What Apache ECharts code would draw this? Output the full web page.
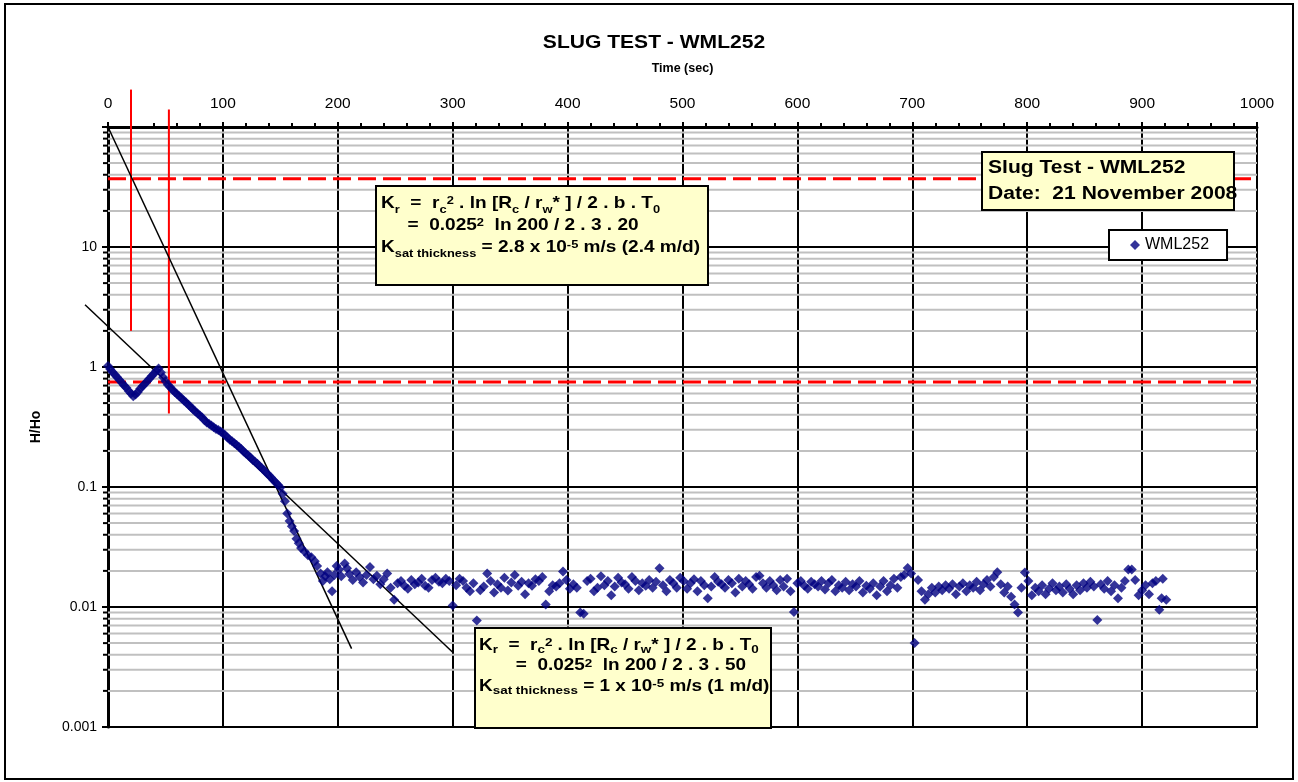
<!DOCTYPE html>
<html>
<head>
<meta charset="utf-8">
<script src="https://cdn.jsdelivr.net/npm/echarts@6/dist/echarts.min.js"></script>
<style>
  html, body { margin: 0; padding: 0; background: #fff; }
  #chart { width: 1298px; height: 782px; }
</style>
</head>
<body>
<div id="chart"></div>
<script>
const FONT = '"Liberation Sans", Arial, Helvetica, sans-serif';

// ---- Axis ticks ----
const timeRange = [0, 1000];
const timeStep = 100;
const headRange = [0.001, 100];
const headTickLabels = { '-3': '0.001', '-2': '0.01', '-1': '0.1', '0': '1', '1': '10', '2': '' };
const headMinorLevels = [
  0.002, 0.003, 0.004, 0.005, 0.006, 0.007, 0.008, 0.009,
  0.02, 0.03, 0.04, 0.05, 0.06, 0.07, 0.08, 0.09,
  0.2, 0.3, 0.4, 0.5, 0.6, 0.7, 0.8, 0.9,
  2, 3, 4, 5, 6, 7, 8, 9,
  20, 30, 40, 50, 60, 70, 80, 90
];

// ---- Observations: [time (s), H/Ho] ----
const initialResponse = [
  [0,1.02],[2,0.96],[4,0.91],[6,0.86],[8,0.82],[10,0.78],[12,0.74],[14,0.70],[16,0.67],[18,0.63],
  [20,0.60],[22,0.57],[24,0.59],[26,0.62],[28,0.66],[30,0.69],[32,0.72],[34,0.76],[36,0.80],[38,0.84],
  [40,0.88],[42,0.93],[44,0.97],[46,0.90],[48,0.82],[50,0.76],[52,0.71]
];
const recovery = [
  [54,0.68],[56,0.65],[58,0.62],[60,0.595],[62,0.57],[64,0.55],[66,0.525],[68,0.505],[70,0.485],[72,0.465],
  [74,0.445],[76,0.425],[78,0.41],[80,0.395],[82,0.38],[84,0.36],[86,0.345],[88,0.335],[90,0.325],[92,0.315],
  [94,0.305],[96,0.298],[98,0.29],[100,0.28],[102,0.27],[104,0.258],[106,0.248],[108,0.24],[110,0.232],[112,0.224],
  [114,0.215],[116,0.207],[118,0.198],[120,0.19],[122,0.183],[124,0.176],[126,0.168],[128,0.162],[130,0.156],[132,0.149],
  [134,0.143],[136,0.137],[138,0.131],[140,0.125],[142,0.12],[144,0.114],[146,0.109],[148,0.104],[150,0.099]
];
const lateDecline = [
  [152,0.088],[154,0.076],[156,0.06],[158,0.052],[160,0.047],[162,0.043],[164,0.037],[166,0.034],[168,0.031],[171,0.029],
  [174,0.027],[177,0.026],[180,0.024],[182,0.022],[185,0.019],[187,0.0165],[189,0.018],[191,0.0195],[193,0.017],[195,0.0135],
  [197,0.0185],[199,0.022],[201,0.0205],[203,0.018],[206,0.023],[208,0.021],[210,0.0188],[213,0.0168],[216,0.0195],[219,0.0178],
  [222,0.016],[225,0.0185],[228,0.0215],[231,0.017],[234,0.0182]
];
const backgroundLevel = [
  [237,0.0155],[240,0.017],[243,0.019],[246,0.0145],[249,0.0115],[252,0.0158],[255,0.0165],[258,0.015],[261,0.0142],[264,0.0168],
  [267,0.0155],[270,0.016],[273,0.0172],[276,0.015],[279,0.0145],[282,0.0168],[285,0.0175],[288,0.0162],[291,0.0158],[294,0.0172],
  [297,0.0165],[300,0.0103],[303,0.0152],[306,0.0172],[309,0.0165],[312,0.0145],[315,0.0135],[318,0.0158],[321,0.0077],[324,0.0138],
  [327,0.0148],[330,0.019],[333,0.0165],[336,0.0132],[339,0.0155],[342,0.0145],[345,0.0175],[348,0.0137],[351,0.016],[354,0.0185],
  [357,0.015],[360,0.0162],[363,0.0128],[366,0.0158],[369,0.015],[372,0.017],[375,0.0165],[378,0.0178],[381,0.0105],[384,0.0135],
  [387,0.0152],[390,0.0148],[393,0.0158],[396,0.0198],[399,0.0168],[402,0.0142],[405,0.0155],[408,0.0145],[411,0.009],[414,0.0088],
  [417,0.0165],[420,0.0172],[423,0.0135],[426,0.0145],[429,0.018],[432,0.0152],[435,0.0165],[438,0.0125],[441,0.0148],[444,0.0175],
  [447,0.016],[450,0.0155],[453,0.0142],[456,0.0178],[459,0.0165],[462,0.0138],[465,0.0158],[468,0.015],[471,0.0168],[474,0.0145],
  [477,0.0162],[480,0.021],[483,0.0152],[486,0.0135],[489,0.0168],[492,0.0158],[495,0.0145],[498,0.0175],[501,0.0165],[504,0.0142],
  [507,0.0158],[510,0.017],[513,0.0135],[516,0.0165],[519,0.0152],[522,0.0118],[525,0.0148],[528,0.0178],[531,0.0162],[534,0.0155],
  [537,0.0145],[540,0.0168],[543,0.0158],[546,0.0132],[549,0.0172],[552,0.0148],[555,0.0165],[558,0.0155],[561,0.0142],[564,0.0178],
  [567,0.0182],[570,0.0158],[573,0.0145],[576,0.0165],[579,0.0152],[582,0.0138],[585,0.0168],[588,0.0148],[591,0.0172],[594,0.0135],
  [597,0.0091],[600,0.0158],[603,0.0165],[606,0.015],[609,0.0142],[612,0.0162],[615,0.0155],[618,0.0148],[621,0.0165],[624,0.014],
  [627,0.0158],[630,0.0168],[633,0.0135],[636,0.0152],[639,0.0145],[642,0.0162],[645,0.0138],[648,0.0155],[651,0.0148],[654,0.0165],
  [657,0.0132],[660,0.015],[663,0.0142],[666,0.0158],[669,0.0125],[672,0.0148],[675,0.0165],[678,0.0135],[681,0.0152],[684,0.0172],
  [687,0.0145],[690,0.0178],[693,0.0185],[696,0.0211],[699,0.019],[702,0.005],[705,0.0168],[708,0.0135],[711,0.0115],[714,0.0128],
  [717,0.0145],[720,0.0132],[723,0.0148],[726,0.0138],[729,0.0152],[732,0.0142],[735,0.0155],[738,0.0128],[741,0.0148],[744,0.0158],
  [747,0.0135],[750,0.0152],[753,0.0145],[756,0.0162],[759,0.0138],[762,0.0155],[765,0.0168],[768,0.0148],[771,0.0178],[774,0.0195],
  [777,0.0155],[780,0.0132],[783,0.0148],[786,0.0122],[789,0.0105],[792,0.009],[795,0.0145],[798,0.0194],[801,0.0165],[804,0.0125],
  [807,0.0145],[810,0.0135],[813,0.0152],[816,0.0128],[819,0.0142],[822,0.0158],[825,0.0138],[828,0.0148],[831,0.0132],[834,0.0155],
  [837,0.0142],[840,0.0128],[843,0.0152],[846,0.0138],[849,0.0158],[852,0.0145],[855,0.0162],[858,0.0148],[861,0.0078],[864,0.0155],
  [867,0.0142],[870,0.0165],[873,0.0135],[876,0.0152],[879,0.0118],[882,0.0145],[885,0.0165],[888,0.0205],[891,0.0205],[894,0.0168],
  [897,0.0125],[900,0.0138],[903,0.0152],[906,0.0128],[909,0.0158],[912,0.0165],[915,0.0095],[917,0.0118],[918,0.0172],[921,0.0115]
];

// ---- Straight-line fits and analysis markers: [[t1, h1], [t2, h2]] ----
const earlyFit = [[0, 100], [212, 0.0045]];
const lateFit = [[-20, 3.3], [300, 0.0042]];
const t0Marker1 = [[20, 2], [20, 205]];
const t0Marker2 = [[53, 0.41], [53, 140]];
const upperLevel = [[0, 37], [1000, 37]];
const lowerLevel = [[0, 0.75], [1000, 0.75]];

const observations = [].concat(initialResponse, recovery, lateDecline, backgroundLevel);

const chart = echarts.init(document.getElementById('chart'), null, { renderer: 'canvas' });

// a straight segment between two data points, drawn through the axes' scales
// (may run past the plot frame, as the hand-drawn fit lines do)
function segment(name, pts, color, width, dash) {
  return {
    name: name,
    type: 'custom',
    silent: true,
    clip: false,
    z: 3,
    data: [[pts[0][0], pts[0][1], pts[1][0], pts[1][1]]],
    encode: { x: [0, 2], y: [1, 3] },
    renderItem: function (params, api) {
      const a = api.coord([api.value(0), api.value(1)]);
      const b = api.coord([api.value(2), api.value(3)]);
      return {
        type: 'line',
        shape: { x1: a[0], y1: a[1], x2: b[0], y2: b[1] },
        style: { stroke: color, lineWidth: width, lineDash: dash || null, fill: null }
      };
    }
  };
}

const boxFont = { fontFamily: FONT, fontWeight: 'bold', fill: '#000' };
function richSet(main, sub, lh) {
  return {
    m: Object.assign({ fontSize: main, lineHeight: lh }, boxFont),
    s: Object.assign({ fontSize: sub, verticalAlign: 'bottom' }, boxFont),
    p: Object.assign({ fontSize: sub, verticalAlign: 'top', padding: [2, 0, 0, 0] }, boxFont)
  };
}

const box1Text =
  '{m|K}{s|r}{m|  =  r}{s|c}{p|2}{m| . ln [R}{s|c}{m| / r}{s|w}{m|* ] / 2 . b . T}{s|0}\n' +
  '{m|     =  0.025}{p|2}{m|  ln 200 / 2 . 3 . 20}\n' +
  '{m|K}{s|sat thickness}{m| = 2.8 x 10}{p|-5}{m| m/s (2.4 m/d)}';
const box2Text =
  '{m|K}{s|r}{m|  =  r}{s|c}{p|2}{m| . ln [R}{s|c}{m| / r}{s|w}{m|* ] / 2 . b . T}{s|0}\n' +
  '{m|       =  0.025}{p|2}{m|  ln 200 / 2 . 3 . 50}\n' +
  '{m|K}{s|sat thickness}{m| = 1 x 10}{p|-5}{m| m/s (1 m/d)}';

const STRETCH = 1.17;

const option = {
  animation: false,
  backgroundColor: '#ffffff',
  textStyle: { fontFamily: FONT },
  grid: {
    left: 108, top: 127, width: 1149, height: 600,
    show: true, borderColor: '#000', borderWidth: 2, backgroundColor: 'transparent',
    containLabel: false, outerBoundsMode: 'none'
  },
  legend: {
    left: 1109, top: 230,
    data: [{ name: 'WML252', icon: 'diamond' }],
    backgroundColor: '#fff', borderColor: '#000', borderWidth: 2, borderRadius: 0,
    padding: [7, 18, 7, 21],
    itemWidth: 10, itemHeight: 10,
    textStyle: { fontFamily: FONT, fontSize: 16, color: '#000' },
    selectedMode: false,
    z: 20
  },
  xAxis: {
    type: 'value', position: 'top',
    min: timeRange[0], max: timeRange[1], interval: timeStep,
    name: 'Time (sec)', nameLocation: 'middle', nameGap: 52,
    nameTextStyle: { fontFamily: FONT, fontWeight: 'bold', fontSize: 12.5, color: '#000' },
    axisLine: { show: true, onZero: false, lineStyle: { color: '#000', width: 3 } },
    axisTick: { show: true, length: 5, lineStyle: { color: '#000', width: 2 } },
    minorTick: { show: true, splitNumber: 5, length: 4, lineStyle: { color: '#000', width: 2 } },
    splitLine: { show: true, lineStyle: { color: '#000', width: 2 } },
    axisLabel: {
      fontFamily: FONT, fontSize: 15.5, color: '#000', margin: 15,
      formatter: function (v) { return String(v); }
    }
  },
  yAxis: {
    type: 'log', logBase: 10,
    min: headRange[0], max: headRange[1],
    name: 'H/Ho', nameLocation: 'middle', nameGap: 65, nameRotate: 90,
    nameTextStyle: { fontFamily: FONT, fontWeight: 'bold', fontSize: 14, color: '#000' },
    axisLine: { show: true, onZero: false, lineStyle: { color: '#000', width: 3 } },
    axisTick: { show: true, length: 6, lineStyle: { color: '#000', width: 2 } },
    splitLine: { show: true, lineStyle: { color: '#000', width: 2 } },
    axisLabel: {
      fontFamily: FONT, fontSize: 14, color: '#000', margin: 11,
      formatter: function (v) {
        const k = String(Math.round(Math.log10(v)));
        return headTickLabels[k] !== undefined ? headTickLabels[k] : '';
      }
    }
  },
  series: [
    {
      // grey minor grid lines and outside minor ticks on the H/Ho axis
      name: 'minorGrid',
      type: 'custom',
      silent: true,
      clip: false,
      z: 1,
      data: headMinorLevels.map(function (v) { return [timeRange[0], v]; }),
      renderItem: function (params, api) {
        const v = api.value(1);
        const a = api.coord([timeRange[0], v]);
        const b = api.coord([timeRange[1], v]);
        return {
          type: 'group',
          children: [
            { type: 'line', shape: { x1: a[0], y1: a[1], x2: b[0], y2: b[1] }, style: { stroke: '#c0c0c0', lineWidth: 2 } },
            { type: 'line', shape: { x1: a[0] - 5, y1: a[1], x2: a[0], y2: a[1] }, style: { stroke: '#000', lineWidth: 2 } }
          ]
        };
      }
    },
    segment('upperLevel', upperLevel, '#ff0000', 3, [18, 7]),
    segment('lowerLevel', lowerLevel, '#ff0000', 3, [18, 7]),
    segment('t0Marker1', t0Marker1, '#ff0000', 2),
    segment('t0Marker2', t0Marker2, '#ff0000', 2),
    {
      name: 'WML252',
      type: 'scatter',
      data: observations,
      symbol: 'diamond',
      symbolSize: [10, 10],
      z: 4,
      itemStyle: { color: '#000080' },
      emphasis: { disabled: true }
    },
    segment('earlyFit', earlyFit, '#000', 1.5),
    segment('lateFit', lateFit, '#000', 1.5)
  ],
  graphic: [
    {
      type: 'rect', z: 0, silent: true,
      shape: { x: 5, y: 4, width: 1288, height: 775 },
      style: { fill: 'none', stroke: '#000', lineWidth: 2 }
    },
    {
      type: 'text', x: 654, y: 43, scaleX: STRETCH, z: 30, silent: true,
      style: {
        text: 'SLUG TEST - WML252', fill: '#000',
        font: 'bold 18px ' + FONT,
        align: 'center', verticalAlign: 'middle', textAlign: 'center', textVerticalAlign: 'middle'
      }
    },
    {
      type: 'rect', z: 30, silent: true,
      shape: { x: 376, y: 186, width: 332, height: 99 },
      style: { fill: '#ffffcc', stroke: '#000', lineWidth: 2 }
    },
    {
      type: 'text', x: 381, y: 193, scaleX: STRETCH, z: 31, silent: true,
      style: { text: box1Text, rich: richSet(16.3, 11, 22), fill: '#000', font: 'bold 16.3px ' + FONT }
    },
    {
      type: 'rect', z: 30, silent: true,
      shape: { x: 475, y: 628, width: 296, height: 100 },
      style: { fill: '#ffffcc', stroke: '#000', lineWidth: 2 }
    },
    {
      type: 'text', x: 479, y: 635, scaleX: STRETCH, z: 31, silent: true,
      style: { text: box2Text, rich: richSet(16.2, 11.5, 20.5), fill: '#000', font: 'bold 16.2px ' + FONT }
    },
    {
      type: 'rect', z: 30, silent: true,
      shape: { x: 982, y: 152, width: 252, height: 58 },
      style: { fill: '#ffffcc', stroke: '#000', lineWidth: 2 }
    },
    {
      type: 'text', x: 988, y: 155, scaleX: STRETCH, z: 31, silent: true,
      style: {
        text: 'Slug Test - WML252\nDate:  21 November 2008',
        fill: '#000', font: 'bold 18px ' + FONT, lineHeight: 26
      }
    }
  ]
};

chart.setOption(option);
</script>
</body>
</html>
